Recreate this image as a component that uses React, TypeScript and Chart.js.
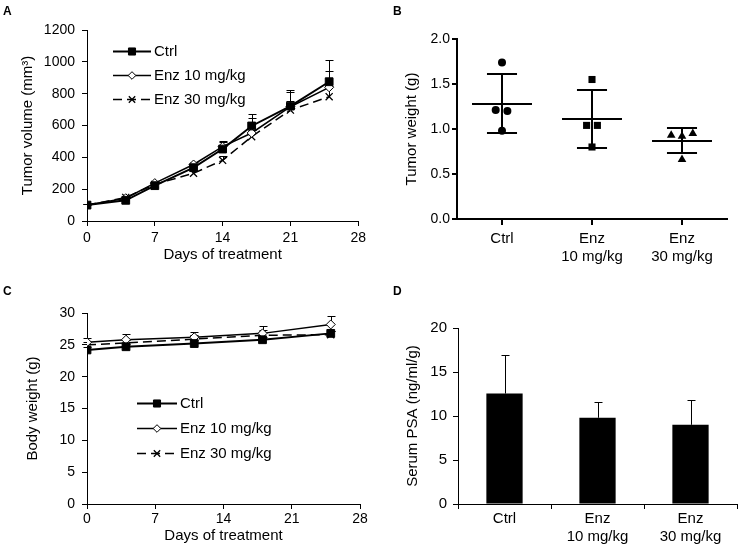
import React, { useEffect, useRef } from 'react';
import { Chart, registerables } from 'chart.js';
import { drawPoint } from 'chart.js/helpers';

Chart.register(...registerables);

const FONT = "'Liberation Sans', Arial, Helvetica, sans-serif";

// ---------- Panel A: tumor volume ----------
const daysA = [0, 4, 7, 11, 14, 17, 21, 25];
const volCtrl = [100, 130, 222, 335, 452, 597, 722, 875];
const volEnz10 = [100, 143, 238, 355, 467, 553, 718, 840];
const volEnz30 = [100, 148, 230, 300, 381, 530, 697, 781];
const volErrCtrl = [6, 12, 15, 20, 45, 75, 100, 136];
const volErrEnz10 = [6, 10, 12, 15, 35, 95, 92, 104];
const volErrEnz30 = [6, 10, 12, 15, 25, 40, 60, 70];

// ---------- Panel B: tumor weight ----------
const groupLabels = [['Ctrl'], ['Enz', '10 mg/kg'], ['Enz', '30 mg/kg']];
const weightCtrl = [1.74, 1.21, 1.2, 0.98];
const weightEnz10 = [1.55, 1.04, 1.04, 0.8];
const weightEnz30 = [0.93, 0.92, 0.95, 0.66];
const jitterCtrl = [0, -0.07, 0.06, 0];
const jitterEnz10 = [0, -0.06, 0.06, 0];
const jitterEnz30 = [-0.12, 0, 0.12, 0];
const weightMean = [1.28, 1.11, 0.87];
const weightSD = [0.326, 0.318, 0.136];

// ---------- Panel C: body weight ----------
const daysC = [0, 4, 11, 18, 25];
const bwCtrl = [24.2, 24.7, 25.2, 25.8, 26.8];
const bwEnz10 = [25.4, 25.8, 26.2, 26.8, 28.2];
const bwEnz30 = [25.0, 25.3, 25.9, 26.5, 26.6];
const bwErrCtrl = [0.4, 0.4, 0.5, 0.5, 0.4];
const bwErrEnz10 = [0.7, 0.9, 0.8, 1.2, 1.4];
const bwErrEnz30 = [0.5, 0.5, 0.7, 0.8, 0.5];

// ---------- Panel D: serum PSA ----------
const psaMean = [12.55, 9.8, 9.0];
const psaErr = [4.35, 1.75, 2.8];

const seriesNames = ['Ctrl', 'Enz 10 mg/kg', 'Enz 30 mg/kg'];

// ---------- plugins ----------
const errorBarPlugin = {
  id: 'errorBars',
  beforeDatasetsDraw(chart: any) {
    const ctx = chart.ctx;
    chart.data.datasets.forEach((ds: any, di: number) => {
      if (!ds.errUp) return;
      const meta = chart.getDatasetMeta(di);
      const yScale = chart.scales[meta.yAxisID];
      const cap = ds.errCap ?? 4;
      ctx.save();
      ctx.strokeStyle = '#000';
      ctx.lineWidth = ds.errWidth ?? 1;
      meta.data.forEach((el: any, i: number) => {
        const raw = ds.data[i];
        const v = typeof raw === 'number' ? raw : raw.y;
        const top = Math.round(yScale.getPixelForValue(v + ds.errUp[i])) + 0.5;
        const x = Math.round(el.x) + 0.5;
        ctx.beginPath();
        ctx.moveTo(x, el.y);
        ctx.lineTo(x, top);
        ctx.moveTo(x - cap, top);
        ctx.lineTo(x + cap, top);
        ctx.stroke();
      });
      ctx.restore();
    });
  },
};

const insideLegendPlugin = {
  id: 'insideLegend',
  afterDraw(chart: any) {
    const opts = chart.options.plugins.insideLegend;
    if (!opts || !opts.display) return;
    const { ctx, chartArea } = chart;
    const x0 = chartArea.left + opts.x;
    chart.data.datasets.forEach((ds: any, i: number) => {
      const y = Math.round(chartArea.top + opts.y + i * opts.rowH) + 0.5;
      ctx.save();
      ctx.strokeStyle = '#000';
      ctx.lineWidth = ds.borderWidth;
      ctx.setLineDash(ds.borderDash || []);
      ctx.beginPath();
      ctx.moveTo(x0, y);
      ctx.lineTo(x0 + opts.lineLen, y);
      ctx.stroke();
      ctx.setLineDash([]);
      ctx.fillStyle = ds.pointBackgroundColor;
      ctx.strokeStyle = '#000';
      ctx.lineWidth = ds.pointBorderWidth;
      drawPoint(ctx, { pointStyle: ds.pointStyle, radius: opts.markerRadius[i], rotation: 0, borderWidth: ds.pointBorderWidth } as any, x0 + opts.lineLen / 2, y);
      ctx.fillStyle = '#000';
      ctx.font = `${opts.fontSize}px ${FONT}`;
      ctx.textBaseline = 'middle';
      ctx.textAlign = 'left';
      ctx.fillText(ds.label, x0 + opts.lineLen + opts.gap, y);
      ctx.restore();
    });
  },
};

const meanSdPlugin = {
  id: 'meanSd',
  afterDatasetsDraw(chart: any) {
    const opts = chart.options.plugins.meanSd;
    if (!opts || !opts.mean) return;
    const { ctx } = chart;
    const xs = chart.scales.x;
    const ys = chart.scales.y;
    ctx.save();
    ctx.strokeStyle = '#000';
    ctx.lineWidth = 2;
    opts.mean.forEach((m: number, i: number) => {
      const xc = Math.round(xs.getPixelForValue(i));
      const xl = xs.getPixelForValue(i - opts.meanHalf);
      const xr = xs.getPixelForValue(i + opts.meanHalf);
      const cl = xs.getPixelForValue(i - opts.capHalf);
      const cr = xs.getPixelForValue(i + opts.capHalf);
      const ym = Math.round(ys.getPixelForValue(m));
      const yt = Math.round(ys.getPixelForValue(m + opts.sd[i]));
      const yb = Math.round(ys.getPixelForValue(m - opts.sd[i]));
      ctx.beginPath();
      ctx.moveTo(xl, ym); ctx.lineTo(xr, ym);
      ctx.moveTo(xc, yt); ctx.lineTo(xc, yb);
      ctx.moveTo(cl, yt); ctx.lineTo(cr, yt);
      ctx.moveTo(cl, yb); ctx.lineTo(cr, yb);
      ctx.stroke();
    });
    ctx.restore();
  },
};

// ---------- helpers ----------
function axis(width = 1, tickLength = 5) {
  return {
    border: { display: true, color: '#000', width },
    grid: { display: true, drawOnChartArea: false, drawTicks: true, tickLength, color: '#000', lineWidth: width },
  };
}
const tickFont = { family: FONT, size: 14 };
const titleFont = { family: FONT, size: 15 };
const plain = (v: any) => String(v);

function lineSeries(name: string, data: number[], xs: number[], err: number[], style: any) {
  return {
    label: name,
    data: xs.map((x, i) => ({ x, y: data[i] })),
    borderColor: '#000',
    pointBorderColor: '#000',
    pointBorderWidth: 1,
    errUp: err,
    errCap: 4,
    tension: 0,
    ...style,
  };
}

function makeTimeCourse(days: number[], series: number[][], errs: number[][], cfg: any) {
  const styles = [
    { borderWidth: 2, pointStyle: 'rect', pointRadius: cfg.sqR, pointBackgroundColor: '#000' },
    { borderWidth: 1.5, pointStyle: 'rectRot', pointRadius: cfg.diaR, pointBackgroundColor: '#fff' },
    { borderWidth: 1.5, borderDash: [9, 5], pointStyle: 'crossRot', pointRadius: cfg.crossR, pointBackgroundColor: '#000', pointBorderWidth: 1.3 },
  ];
  return {
    type: 'line',
    data: {
      datasets: series.map((s, i) => lineSeries(seriesNames[i], s, days, errs[i], styles[i])),
    },
    options: {
      responsive: false,
      animation: false,
      devicePixelRatio: 1,
      layout: { padding: cfg.padding },
      plugins: {
        legend: { display: false },
        tooltip: { enabled: false },
        insideLegend: { display: true, ...cfg.legend },
      },
      scales: {
        x: {
          type: 'linear', min: 0, max: 28,
          ...axis(),
          ticks: { stepSize: 7, font: tickFont, color: '#000', padding: cfg.xTickPad, maxRotation: 0, callback: plain },
          title: { display: true, text: 'Days of treatment', font: titleFont, color: '#000', padding: { top: 0, bottom: cfg.xTitlePad } },
          afterFit: (s: any) => { s.height = cfg.xH; },
        },
        y: {
          min: 0, max: cfg.yMax,
          ...axis(),
          ticks: { stepSize: cfg.yStep, font: tickFont, color: '#000', padding: cfg.yTickPad, callback: plain },
          title: { display: true, text: cfg.yTitle, font: titleFont, color: '#000', padding: { top: cfg.yTitlePad, bottom: 0 } },
          afterFit: (s: any) => { s.width = cfg.yW; },
        },
      },
    },
    plugins: [errorBarPlugin, insideLegendPlugin],
  };
}

const configA = () => makeTimeCourse(daysA, [volCtrl, volEnz10, volEnz30], [volErrCtrl, volErrEnz10, volErrEnz30], {
  sqR: 5.5, diaR: 4.5, crossR: 5,
  padding: { left: 0, right: 10, top: 30, bottom: 0 },
  legend: { x: 26, y: 21, rowH: 24, lineLen: 38, gap: 3, fontSize: 15, markerRadius: [5, 3.8, 4.5] },
  xTickPad: 4, xTitlePad: 16, xH: 59,
  yMax: 1200, yStep: 200, yTitle: 'Tumor volume (mm³)', yTitlePad: 19, yTickPad: 7, yW: 87,
});

const configC = () => makeTimeCourse(daysC, [bwCtrl, bwEnz10, bwEnz30], [bwErrCtrl, bwErrEnz10, bwErrEnz30], {
  sqR: 5.5, diaR: 4.5, crossR: 5,
  padding: { left: 0, right: 10, top: 33, bottom: 0 },
  legend: { x: 50, y: 90, rowH: 25, lineLen: 40, gap: 3, fontSize: 15, markerRadius: [5, 3.8, 4.5] },
  xTickPad: 2, xTitlePad: 12, xH: 53,
  yMax: 30, yStep: 5, yTitle: 'Body weight (g)', yTitlePad: 24, yTickPad: 7, yW: 87,
});

const configB = () => {
  const mk = (name: string, vals: number[], jit: number[], gi: number, style: string, r: number) => ({
    label: name,
    data: vals.map((v, i) => ({ x: gi + jit[i], y: v })),
    pointStyle: style,
    pointRadius: r,
    pointBackgroundColor: '#000',
    pointBorderColor: '#000',
    pointBorderWidth: 0,
    showLine: false,
  });
  return {
    type: 'scatter',
    data: {
      datasets: [
        mk('Ctrl', weightCtrl, jitterCtrl, 0, 'circle', 4),
        mk('Enz 10 mg/kg', weightEnz10, jitterEnz10, 1, 'rect', 5),
        mk('Enz 30 mg/kg', weightEnz30, jitterEnz30, 2, 'triangle', 5),
      ],
    },
    options: {
      responsive: false,
      animation: false,
      devicePixelRatio: 1,
      layout: { padding: { left: 0, right: 14, top: 39, bottom: 0 } },
      plugins: {
        legend: { display: false },
        tooltip: { enabled: false },
        meanSd: { mean: weightMean, sd: weightSD, meanHalf: 0.333, capHalf: 0.167 },
      },
      scales: {
        x: {
          type: 'linear', min: -0.5, max: 2.5,
          ...axis(2, 6),
          afterBuildTicks: (s: any) => { s.ticks = groupLabels.map((_, i) => ({ value: i })); },
          ticks: {
            font: { family: FONT, size: 15, lineHeight: 1.25 }, color: '#000', padding: 4, maxRotation: 0, autoSkip: false,
            callback: (v: any) => groupLabels[Math.round(Number(v))] ?? '',
          },
          afterFit: (s: any) => { s.height = 61; },
        },
        y: {
          min: 0, max: 2,
          ...axis(2, 5),
          ticks: { stepSize: 0.5, font: tickFont, color: '#000', padding: 2, callback: (v: any) => Number(v).toFixed(1) },
          title: { display: true, text: 'Tumor weight (g)', font: titleFont, color: '#000', padding: { top: 33, bottom: 0 } },
          afterFit: (s: any) => { s.width = 87; },
        },
      },
    },
    plugins: [meanSdPlugin],
  };
};

const configD = () => ({
  type: 'bar',
  data: {
    labels: groupLabels,
    datasets: [{
      label: 'Serum PSA',
      data: psaMean,
      backgroundColor: '#000',
      borderColor: '#000',
      borderWidth: 0,
      categoryPercentage: 1,
      barPercentage: 0.39,
      errUp: psaErr,
      errCap: 4,
    }],
  },
  options: {
    responsive: false,
    animation: false,
    devicePixelRatio: 1,
    layout: { padding: { left: 0, right: 4, top: 48, bottom: 0 } },
    plugins: { legend: { display: false }, tooltip: { enabled: false } },
    scales: {
      x: {
        ...axis(),
        grid: { display: true, drawOnChartArea: false, drawTicks: true, tickLength: 5, color: '#000', lineWidth: 1, offset: true },
        ticks: { font: { family: FONT, size: 15, lineHeight: 1.25 }, color: '#000', padding: 0, maxRotation: 0, autoSkip: false },
        afterFit: (s: any) => { s.height = 53; },
      },
      y: {
        min: 0, max: 20,
        ...axis(),
        ticks: { stepSize: 5, font: { family: FONT, size: 15 }, color: '#000', padding: 6, callback: plain },
        title: { display: true, text: 'Serum PSA (ng/ml/g)', font: titleFont, color: '#000', padding: { top: 34, bottom: 0 } },
        afterFit: (s: any) => { s.width = 88; },
      },
    },
  },
  plugins: [errorBarPlugin],
});

function Panel({ left, top, width, height, letter, make }: any) {
  const ref = useRef<HTMLCanvasElement>(null);
  useEffect(() => {
    const chart = new Chart(ref.current as HTMLCanvasElement, make());
    return () => chart.destroy();
  }, []);
  return (
    <div style={{ position: 'absolute', left, top, width, height }}>
      <canvas ref={ref} width={width} height={height} style={{ width, height, display: 'block' }} />
      <div style={{ position: 'absolute', left: 3, top: 5, font: `bold 12px ${FONT}`, lineHeight: '12px', color: '#000' }}>{letter}</div>
    </div>
  );
}

export default function App() {
  return (
    <div style={{ position: 'absolute', left: 0, top: 0, width: 741, height: 557, background: '#fff', overflow: 'hidden' }}>
      <Panel left={0} top={0} width={370} height={280} letter="A" make={configA} />
      <Panel left={370} top={0} width={371} height={280} letter="" make={configB} />
      <div style={{ position: 'absolute', left: 393, top: 5, font: `bold 12px ${FONT}`, lineHeight: '12px' }}>B</div>
      <Panel left={0} top={280} width={370} height={277} letter="C" make={configC} />
      <Panel left={370} top={280} width={371} height={277} letter="" make={configD} />
      <div style={{ position: 'absolute', left: 393, top: 285, font: `bold 12px ${FONT}`, lineHeight: '12px' }}>D</div>
    </div>
  );
}
